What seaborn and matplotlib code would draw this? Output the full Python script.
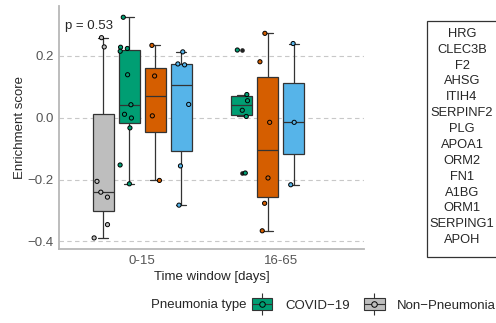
import numpy as np
import pandas as pd
import matplotlib
matplotlib.use("Agg")
import matplotlib.pyplot as plt
import seaborn as sns
from matplotlib.patches import Patch, Rectangle
from matplotlib.lines import Line2D
from matplotlib.legend_handler import HandlerTuple

# ---------------- data ----------------
windows = ["0-15", "16-65"]
type_names = ["Non\u2212Pneumonia", "COVID\u221219", "Other\u2212Pneumonia", "Viral\u2212Pneumonia"]
type_colors = ["#BEBEBE", "#009E73", "#D55E00", "#56B4E9"]

non_0_15 = [0.259, 0.229, -0.206, -0.241, -0.257, -0.346, -0.389]
covid_0_15 = [0.325, 0.228, 0.224, 0.215, 0.139, 0.042, 0.011, -0.001, -0.033, -0.153, -0.214]
other_0_15 = [0.234, 0.135, 0.006, -0.203]
viral_0_15 = [0.213, 0.174, 0.171, 0.043, -0.156, -0.283]
covid_16_65 = [0.219, 0.075, 0.055, 0.024, 0.004, -0.179]
other_16_65 = [0.273, 0.181, -0.015, -0.195, -0.277, -0.366]
viral_16_65 = [0.240, -0.015, -0.217]

genes = ["HRG", "CLEC3B", "F2", "AHSG", "ITIH4", "SERPINF2", "PLG", "APOA1",
         "ORM2", "FN1", "A1BG", "ORM1", "SERPING1", "APOH"]
p_label = "p = 0.53"
y_ticks = [-0.4, -0.2, 0.0, 0.2]
y_ticklabels = ["\u22120.4", "\u22120.2", "0.0", "0.2"]
legend_types = [type_names[1], type_names[0]]   # entries visible in the reference

# ---------------- tidy table ----------------
rows = []
for w, t, vals in [
    (windows[0], type_names[0], non_0_15),
    (windows[0], type_names[1], covid_0_15),
    (windows[0], type_names[2], other_0_15),
    (windows[0], type_names[3], viral_0_15),
    (windows[1], type_names[1], covid_16_65),
    (windows[1], type_names[2], other_16_65),
    (windows[1], type_names[3], viral_16_65),
]:
    for v in vals:
        rows.append({"window": w, "type": t, "score": v})
df = pd.DataFrame(rows)
palette = dict(zip(type_names, type_colors))

# ---------------- style ----------------
sns.set_style("white")
plt.rcParams["font.family"] = ["Liberation Sans", "DejaVu Sans"]
plt.rcParams["font.size"] = 9.5

fig = plt.figure(figsize=(4.96, 3.23), dpi=100)
ax = fig.add_axes([0.119, 0.229, 0.615, 0.752])

np.random.seed(3)
hue_orders = {
    windows[0]: [type_names[0], type_names[1], type_names[2], type_names[3]],
    windows[1]: [type_names[1], type_names[2], type_names[3], type_names[0]],
}
for w in windows:
    sub = df[df["window"] == w]
    sns.boxplot(data=sub, x="window", y="score", hue="type", order=windows,
                hue_order=hue_orders[w], palette=palette, saturation=1,
                width=0.75, gap=0.2, dodge=True, linecolor="#333333",
                linewidth=0.9, fliersize=2.3,
                flierprops=dict(marker="o", markerfacecolor="#222222",
                                markeredgecolor="#222222"),
                legend=False, ax=ax, zorder=2)
    sns.stripplot(data=sub, x="window", y="score", hue="type", order=windows,
                  hue_order=hue_orders[w], palette=palette, dodge=True,
                  jitter=0.25, size=3.0, linewidth=0.7, edgecolor="black",
                  legend=False, ax=ax, zorder=3)

ax.set_xlim(-0.6, 1.6)
ax.set_ylim(-0.425, 0.361)
ax.set_yticks(y_ticks)
ax.set_yticklabels(y_ticklabels)
ax.yaxis.grid(True, linestyle=(0, (4, 3)), color="#C8C8C8", linewidth=0.8, zorder=0)
ax.set_axisbelow(True)
for s in ["top", "right"]:
    ax.spines[s].set_visible(False)
for s in ["left", "bottom"]:
    ax.spines[s].set_color("#B8B8B8")
    ax.spines[s].set_linewidth(1.3)
ax.tick_params(axis="both", colors="#B8B8B8", labelcolor="#555555",
               labelsize=9.5, length=2, width=0.8, pad=2)
ax.set_xlabel("Time window [days]", fontsize=9.5, labelpad=3)
ax.set_ylabel("Enrichment score", fontsize=9.5, labelpad=1)

ax.text(0.02, 0.92, p_label, transform=ax.transAxes, ha="left", va="center",
        fontsize=9.5)

# gene list box
W, H = 496.0, 323.0
fig.add_artist(Rectangle((427 / W, 1 - 257 / H), 69.5 / W, 236 / H,
                         transform=fig.transFigure, facecolor="white",
                         edgecolor="#333333", linewidth=0.9))
fig.text(462 / W, 1 - 137 / H, "\n".join(genes), ha="center", va="center",
         fontsize=9.3, linespacing=1.43)

# legend at the bottom
fig.text(151 / W, 1 - 305 / H, "Pneumonia type", ha="left", va="center",
         fontsize=9.5)
handles = []
for t in legend_types:
    c = palette[t]
    handles.append((
        Line2D([0], [0], marker="|", markersize=16, color="#333333", lw=0, mew=0.8),
        Patch(facecolor=c, edgecolor="#333333", linewidth=0.8),
        Line2D([0], [0], color="#333333", lw=0.8, marker="o", markersize=4,
               markerfacecolor=c, markeredgecolor="black", markeredgewidth=0.7),
    ))
fig.legend(handles, legend_types, loc="center left",
           bbox_to_anchor=(252 / W, 1 - 305 / H),
           ncol=len(legend_types), frameon=False, handlelength=1.55, handleheight=1.05,
           handletextpad=0.95, columnspacing=1.1, borderpad=0, borderaxespad=0,
           numpoints=1, fontsize=9.5,
           handler_map={tuple: HandlerTuple(ndivide=1, pad=0)})

fig.savefig("out.png", dpi=100)
